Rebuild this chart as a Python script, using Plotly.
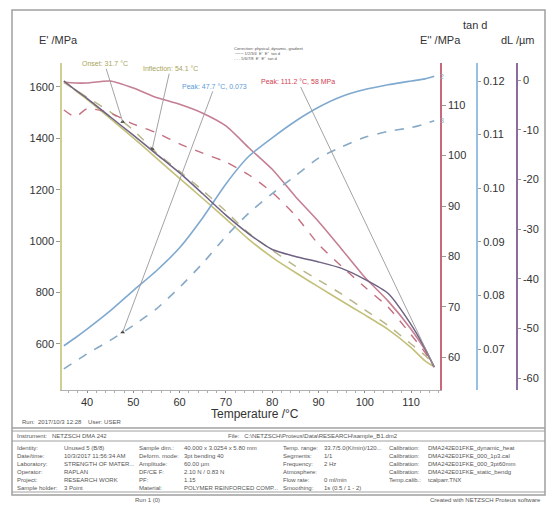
import numpy as np
import plotly.graph_objects as go

# ---------------- data ----------------
temperature = [35, 37.5, 40, 45, 50, 55, 60, 65, 70, 75, 80, 85, 90, 95, 100, 105, 110, 113, 115]

tan_d_solid = [0.0706, 0.0721, 0.0737, 0.0771, 0.0809, 0.0846, 0.0889, 0.0945, 0.1008, 0.1060,
               0.1094, 0.1125, 0.1151, 0.1171, 0.1184, 0.1193, 0.1200, 0.1204, 0.1209]
tan_d_dashed = [0.0663, 0.0677, 0.0691, 0.0716, 0.0744, 0.0775, 0.0815, 0.0860, 0.0910, 0.0954,
                0.0990, 0.1023, 0.1056, 0.1077, 0.1095, 0.1106, 0.1113, 0.1120, 0.1126]
e2_solid = [114.55, 114.36, 114.36, 114.75, 113.37, 111.50, 110.14, 108.38, 105.86, 101.49,
            97.27, 91.90, 86.93, 81.45, 75.88, 71.21, 65.60, 61.49, 58.12]
e2_dashed = [109.01, 107.68, 109.27, 108.40, 106.22, 104.51, 102.30, 100.46, 98.71, 96.14,
             92.69, 88.13, 82.42, 78.02, 73.96, 70.00, 64.50, 61.01, 58.12]
e1_solid = [1624, 1586, 1552, 1478, 1402, 1323, 1244, 1166, 1087, 1006,
            937, 878, 822, 767, 713, 657, 586, 534, 511]
e1_dashed = [1617, 1589, 1560, 1503, 1432, 1344, 1272, 1197, 1116, 1030,
             965, 903, 849, 794, 733, 672, 600, 556, 518]
dl_solid = [-0.2, -2.0, -3.7, -7.4, -11.1, -14.9, -18.7, -22.9, -27.2, -31.0,
            -34.1, -35.5, -36.6, -37.9, -40.1, -42.9, -49.2, -54.0, -57.8]

onset_T = 47.7
inflection_T = 54.1
tan_peak_T = 47.7
e2_peak_T = 115.0

x_ticks = [40, 50, 60, 70, 80, 90, 100, 110]
e1_ticks = [600, 800, 1000, 1200, 1400, 1600]
e2_ticks = [60, 70, 80, 90, 100, 110]
tan_ticks = [0.07, 0.08, 0.09, 0.10, 0.11, 0.12]
dl_ticks = [0, -10, -20, -30, -40, -50, -60]
dl_labels = ["0", "-10", "-20", "-30", "-40", "-50", "-60"]

# ---------------- figure ----------------
W, H = 547, 508
ML, MR, MT, MB = 62, 7, 63, 118
PW = W - ML - MR
PH = H - MT - MB


def px(xpix):
    return (xpix - ML) / PW


def py(ypix):
    return 1 - (ypix - MT) / PH


FONT = "Liberation Sans, Arial, sans-serif"
OLIVE = "#c4c07a"
OLIVE_D = "#b8b68a"
PINK = "#c47f92"
PINK_D = "#c46f80"
BLUE = "#7fa9cf"
BLUE_D = "#86a9c6"
DARK = "#6f6283"

fig = go.Figure()

common = dict(mode="lines", line_shape="spline", hoverinfo="skip", showlegend=False)

fig.add_trace(go.Scatter(x=temperature, y=tan_d_solid, yaxis="y3",
                         line=dict(color=BLUE, width=1.6, smoothing=0.6), **common))
fig.add_trace(go.Scatter(x=temperature, y=tan_d_dashed, yaxis="y3",
                         line=dict(color=BLUE_D, width=1.6, dash="dash", smoothing=0.6), **common))
fig.add_trace(go.Scatter(x=temperature, y=e2_solid, yaxis="y2",
                         line=dict(color=PINK, width=1.6, smoothing=0.6), **common))
fig.add_trace(go.Scatter(x=temperature, y=e2_dashed, yaxis="y2",
                         line=dict(color=PINK_D, width=1.4, dash="dash", smoothing=0.6), **common))
fig.add_trace(go.Scatter(x=temperature, y=e1_solid, yaxis="y",
                         line=dict(color=OLIVE, width=1.6, smoothing=0.6), **common))
fig.add_trace(go.Scatter(x=temperature, y=e1_dashed, yaxis="y",
                         line=dict(color=OLIVE_D, width=1.5, dash="dash", smoothing=0.6), **common))
fig.add_trace(go.Scatter(x=temperature, y=dl_solid, yaxis="y4",
                         line=dict(color=DARK, width=1.5, smoothing=0.6), **common))

# evaluation markers
on_y = float(np.interp(onset_T, temperature, e1_dashed))
inf_y = float(np.interp(inflection_T, temperature, e1_dashed))
tp_y = float(np.interp(tan_peak_T, temperature, tan_d_dashed))
e2p_y = float(np.interp(e2_peak_T, temperature, e2_solid))
fig.add_trace(go.Scatter(x=[onset_T, inflection_T], y=[on_y, inf_y], yaxis="y", mode="markers",
                         marker=dict(color="#333", size=4, symbol="triangle-up"),
                         showlegend=False, hoverinfo="skip"))
fig.add_trace(go.Scatter(x=[tan_peak_T], y=[tp_y], yaxis="y3", mode="markers",
                         marker=dict(color="#333", size=4, symbol="triangle-up"),
                         showlegend=False, hoverinfo="skip"))

annotations = []


def leader(x, y, yref, text, color, axp, ayp):
    annotations.append(dict(x=x, y=y, xref="x", yref=yref, text=text, showarrow=True,
                            arrowhead=0, arrowwidth=0.9, arrowcolor="#999999",
                            ax=axp, ay=ayp, font=dict(family=FONT, size=7, color=color)))


leader(onset_T, on_y, "y", "Onset: 31.7 °C", "#a8a45a", -18, -58)
leader(inflection_T, inf_y, "y", "Inflection: 54.1 °C", "#a8a45a", 18, -80)
leader(tan_peak_T, tp_y, "y3", "Peak: 47.7 °C, 0.073", "#5b9bd5", 92, -246)
leader(e2_peak_T, e2p_y, "y2", "Peak: 111.2 °C, 58 MPa", "#d04050", -136, -285)

# curve end numbers
annotations.append(dict(x=temperature[-1], y=tan_d_solid[-1], xref="x", yref="y3", text="2",
                        showarrow=False, xshift=4, font=dict(family=FONT, size=7, color="#8aa"),
                        xanchor="left", yanchor="middle"))
annotations.append(dict(x=temperature[-1], y=tan_d_dashed[-1], xref="x", yref="y3", text="3",
                        showarrow=False, xshift=4, font=dict(family=FONT, size=7, color="#8aa"),
                        xanchor="left", yanchor="middle"))


def ptext(xp, yp, text, font, xanchor="center"):
    annotations.append(dict(x=px(xp), y=py(yp), xref="paper", yref="paper", text=text,
                            showarrow=False, xanchor=xanchor, yanchor="middle", font=font))


# axis titles
tfont = dict(family=FONT, size=11, color="#333")
ptext(58, 40, "E' /MPa", tfont)
ptext(440, 40, "E'' /MPa", tfont)
ptext(475, 25, "tan d", tfont)
ptext(517, 40, "dL /µm", tfont)
ptext(255, 414, "Temperature /°C", dict(family=FONT, size=12, color="#333"))

# small legend block
lfont = dict(family=FONT, size=4, color="#555")
for i, s in enumerate(["Correction: physical, dynamic, gradient",
                       "─── 1/2/3/4  E'  E''  tan d",
                       "- - - 5/6/7/8  E'  E''  tan d"]):
    ptext(232, 48 + i * 5, s, lfont, "left")

# run line
ptext(20, 422, "Run:  2017/10/3 12:28    User: USER", dict(family=FONT, size=6, color="#555"), "left")

# info table
sfont = dict(family=FONT, size=6, color="#555")
ptext(15, 436, "Instrument:   NETZSCH DMA 242", sfont, "left")
ptext(226, 436, "File:   C:\\NETZSCH\\Proteus\\Data\\RESEARCH\\sample_B1.dm2", sfont, "left")
rows_y = [448, 456, 464, 472, 480, 488]
table_cols = [
    (15, 62, ["Identity:", "Date/time:", "Laboratory:", "Operator:", "Project:", "Sample holder:"],
     ["Unused 5 (B/8)", "10/3/2017 11:56:34 AM", "STRENGTH OF MATER...", "RAPLAN", "RESEARCH WORK", "3 Point"]),
    (137, 182, ["Sample dim.:", "Deform. mode:", "Amplitude:", "DF/CE F:", "PF:", "Material:"],
     ["40.000 x 3.0254 x 5.80 mm", "3pt bending 40", "60.00 µm", "2.10 N / 0.83 N", "1.15",
      "POLYMER REINFORCED COMP..."]),
    (281, 322, ["Temp. range:", "Segments:", "Frequency:", "Atmosphere:", "Flow rate:", "Smoothing:"],
     ["33.7/5.0(K/min)/120...", "1/1", "2 Hz", "", "0 ml/min", "1s (0.5 / 1 - 2)"]),
    (387, 426, ["Calibration:", "Calibration:", "Calibration:", "Calibration:", "Temp.calib.:", ""],
     ["DMA242E01FKE_dynamic_heat", "DMA242E01FKE_000_1p3.cal", "DMA242E01FKE_000_3pt60mm",
      "DMA242E01FKE_static_bendg", "tcalparr.TNX", ""]),
]
for lx, vx, labels, values in table_cols:
    for yy, lab, val in zip(rows_y, labels, values):
        if lab:
            ptext(lx, yy, lab, sfont, "left")
        if val:
            ptext(vx, yy, val, sfont, "left")
ptext(133, 500, "Run 1 (0)", sfont, "left")
ptext(543, 500, "Created with NETZSCH Proteus software", sfont, "right")

# frame / table lines
shapes = [
    dict(type="rect", xref="paper", yref="paper", x0=px(12), x1=px(545), y0=py(495), y1=py(10),
         line=dict(color="#a0a0a0", width=1.5)),
    dict(type="line", xref="paper", yref="paper", x0=px(12), x1=px(545), y0=py(428), y1=py(428),
         line=dict(color="#a0a0a0", width=1.5)),
    dict(type="line", xref="paper", yref="paper", x0=px(12), x1=px(545), y0=py(431), y1=py(431),
         line=dict(color="#a0a0a0", width=1)),
    dict(type="line", xref="paper", yref="paper", x0=px(12), x1=px(545), y0=py(441), y1=py(441),
         line=dict(color="#a0a0a0", width=1)),
    dict(type="line", xref="paper", yref="paper", x0=px(12), x1=px(545), y0=py(492), y1=py(492),
         line=dict(color="#a0a0a0", width=1)),
]

axis_font = dict(family=FONT, size=11, color="#333")
fig.update_layout(
    width=W, height=H,
    margin=dict(l=ML, r=MR, t=MT, b=MB, pad=0, autoexpand=False),
    paper_bgcolor="white", plot_bgcolor="white",
    showlegend=False,
    xaxis=dict(domain=[0, px(440)], range=[34.6, 116.24], tickvals=x_ticks, showgrid=False,
               zeroline=False, showline=True, linecolor="#b0b0b0", linewidth=1, automargin=False,
               ticks="outside", ticklen=2, tickcolor="#888", tickfont=axis_font,
               minor=dict(dtick=2, ticks="outside", ticklen=2, tickcolor="#aaa"), anchor="y"),
    yaxis=dict(range=[421, 1693], tickvals=e1_ticks, showgrid=False, zeroline=False, automargin=False,
               showline=True, linecolor="#cfcf90", linewidth=1.5, ticks="outside", ticklen=4,
               tickcolor="#999", tickfont=axis_font, side="left", anchor="x"),
    yaxis2=dict(range=[53.56, 118.32], tickvals=e2_ticks, showgrid=False, zeroline=False, automargin=False,
                showline=True, linecolor="#c86878", linewidth=1.5, ticks="outside", ticklen=4,
                tickcolor="#999", tickfont=axis_font, side="right", overlaying="y", anchor="x"),
    yaxis3=dict(range=[0.06235, 0.12336], tickvals=tan_ticks, tickformat=".2f", showgrid=False,
                zeroline=False, showline=True, linecolor="#98c0e4", linewidth=2, ticks="outside",
                ticklen=3, tickcolor="#999", tickfont=axis_font, side="right", overlaying="y",
                anchor="free", position=px(477), automargin=False),
    yaxis4=dict(range=[-62.37, 3.42], tickvals=dl_ticks, ticktext=dl_labels, showgrid=False,
                zeroline=False, showline=True, linecolor="#8c6c9c", linewidth=1.5, ticks="outside",
                ticklen=3, tickcolor="#999", tickfont=axis_font, side="right", overlaying="y",
                anchor="free", position=px(517), automargin=False),
    annotations=annotations,
    shapes=shapes,
)

fig.write_html("out.html", config={"displayModeBar": False},
               post_script="document.body.style.margin='0px';document.body.style.overflow='hidden';")
